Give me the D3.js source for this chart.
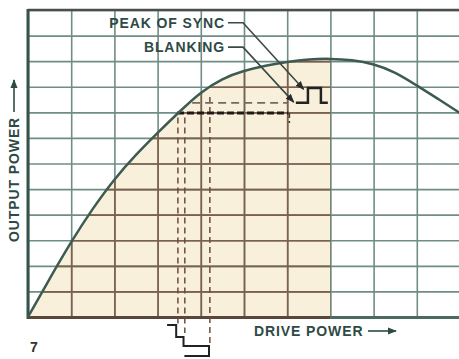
<!DOCTYPE html>
<html>
<head>
<meta charset="utf-8">
<script src="https://cdn.jsdelivr.net/npm/d3@7"></script>
<style>
  html, body { margin: 0; padding: 0; background: #fff; }
  svg { display: block; }
  text { font-family: "Liberation Sans", Arial, sans-serif; fill: #2e4a45; }
</style>
</head>
<body>
<svg id="chart" width="459" height="359"></svg>
<script>
// Transfer curve of the output stage: drive power vs. output power (grid units)
const drive  = [0, 0.5, 1, 1.5, 2, 2.5, 3, 3.5, 4, 4.5, 5, 5.5, 6, 6.5, 7, 7.5, 8, 8.5, 9, 9.5, 10];
const output = [0, 1.5, 2.95, 4.25, 5.4, 6.35, 7.2, 8.02, 8.8, 9.33, 9.63, 9.83, 9.98, 10.08, 10.1, 10.05, 9.9, 9.58, 9.05, 8.52, 7.97];

// Operating region (shaded) ends at this drive level
const shadeEnd = 7;

// Drive levels projected up from the input signal, and the output levels they produce
const projDrive  = [3.47, 3.63, 4.21];
const projTop    = [7.8, 7.8, 8.6];
const projBelow  = [8, 16, 27];          // how far each projection runs under the axis (px)
const outLevels  = [7.97, 8.37, 8.95];   // black level, blanking, peak of sync

// Input (drive) waveform under the axis: drive value and drop below axis (px)
const inWaveX = [3.22, 3.43, 3.43, 3.6, 3.6, 4.19, 4.19, 3.62];
const inWaveY = [8, 8, 20, 20, 29, 29, 39, 39];

// Output waveform next to the curve: drive-axis position and output level
const outWaveX = [6.2, 6.48, 6.48, 6.78, 6.78, 6.94];
const outWaveY = [8.37, 8.37, 8.95, 8.95, 8.37, 8.37];

const labels = ["PEAK OF SYNC", "BLANKING"];
const labelLevel = [11.5, 10.55];
const labelTip = [[6.38, 8.9], [6.15, 8.4]];

const W = 459, H = 359;
const svg = d3.select("#chart");

const x = d3.scaleLinear().domain([0, 10]).range([28, 460]);
const y = d3.scaleLinear().domain([0, 12]).range([317, 10]);

const pts = drive.map((d, i) => ({ x: d, y: output[i] }));

const line = d3.line().x(d => x(d.x)).y(d => y(d.y)).curve(d3.curveBasis);
const area = d3.area().x(d => x(d.x)).y0(y(0)).y1(d => y(d.y)).curve(d3.curveBasis);
const shadePts = pts.filter(d => d.x <= shadeEnd);

// shaded operating region
svg.append("path").attr("d", area(shadePts)).attr("fill", "#f9f0dc");

const defs = svg.append("defs");
defs.append("clipPath").attr("id", "shadeClip")
  .append("path").attr("d", area(shadePts));

// grid, drawn with the axis generators
function grid(g, colour) {
  g.append("g")
    .attr("transform", `translate(0,${y(0)})`)
    .call(d3.axisBottom(x).ticks(10).tickSize(-(y(0) - y(12))).tickFormat(""))
    .call(s => s.select(".domain").remove())
    .selectAll("line").attr("stroke", colour).attr("stroke-width", 1.6);
  g.append("g")
    .attr("transform", `translate(${x(0)},0)`)
    .call(d3.axisLeft(y).ticks(12).tickSize(-(x(10) - x(0))).tickFormat(""))
    .call(s => s.select(".domain").remove())
    .selectAll("line").attr("stroke", colour).attr("stroke-width", 1.6);
}
grid(svg.append("g"), "#6f8d85");
grid(svg.append("g").attr("clip-path", "url(#shadeClip)"), "#7e5f4c");

// frame
svg.append("line").attr("x1", x(0)).attr("x2", W).attr("y1", y(12)).attr("y2", y(12))
  .attr("stroke", "#4b4f4c").attr("stroke-width", 2.5);
svg.append("line").attr("x1", x(0)).attr("x2", x(shadeEnd)).attr("y1", y(0) + 0.5).attr("y2", y(0) + 0.5)
  .attr("stroke", "#5b4739").attr("stroke-width", 3);
svg.append("line").attr("x1", x(shadeEnd)).attr("x2", W).attr("y1", y(0) + 0.5).attr("y2", y(0) + 0.5)
  .attr("stroke", "#4a6a62").attr("stroke-width", 3);
svg.append("line").attr("x1", x(0)).attr("x2", x(0)).attr("y1", y(12) - 1).attr("y2", y(0) + 2)
  .attr("stroke", "#35524b").attr("stroke-width", 3);

// projections of the input signal
projDrive.forEach((d, i) => {
  svg.append("line")
    .attr("x1", x(d)).attr("x2", x(d))
    .attr("y1", y(projTop[i])).attr("y2", y(0) + projBelow[i])
    .attr("stroke", "#6b4c3c").attr("stroke-width", 1.5)
    .attr("stroke-dasharray", "6,4");
});

// black level (heavy dashes) and blanking level (light dashes)
svg.append("line")
  .attr("x1", x(3.45)).attr("x2", x(6.03))
  .attr("y1", y(outLevels[0])).attr("y2", y(outLevels[0]))
  .attr("stroke", "#1f1a16").attr("stroke-width", 3).attr("stroke-dasharray", "7,3");
svg.append("line")
  .attr("x1", x(3.8)).attr("x2", x(6.0))
  .attr("y1", y(outLevels[1])).attr("y2", y(outLevels[1]))
  .attr("stroke", "#6e6c60").attr("stroke-width", 1.6).attr("stroke-dasharray", "8,5");
svg.append("line")
  .attr("x1", x(6.05)).attr("x2", x(6.05))
  .attr("y1", y(outLevels[0])).attr("y2", y(outLevels[0]) + 10)
  .attr("stroke", "#4a3a30").attr("stroke-width", 1.6).attr("stroke-dasharray", "5,3");

// transfer curve
svg.append("path").attr("d", line(pts))
  .attr("fill", "none").attr("stroke", "#3d5b50").attr("stroke-width", 2.5);

// input waveform under the axis
svg.append("path")
  .attr("d", d3.line()(inWaveX.map((d, i) => [x(d), y(0) + inWaveY[i]])))
  .attr("fill", "none").attr("stroke", "#222").attr("stroke-width", 2);

// output waveform
svg.append("path")
  .attr("d", d3.line()(outWaveX.map((d, i) => [x(d), y(outWaveY[i])])))
  .attr("fill", "none").attr("stroke", "#222").attr("stroke-width", 2.5);

// arrowheads
defs.append("marker").attr("id", "arr").attr("viewBox", "0 0 10 10")
  .attr("refX", 9).attr("refY", 5).attr("markerWidth", 9).attr("markerHeight", 9)
  .attr("markerUnits", "userSpaceOnUse").attr("orient", "auto")
  .append("path").attr("d", "M0,1 L10,5 L0,9 Z").attr("fill", "#2b2b2b");
defs.append("marker").attr("id", "arrG").attr("viewBox", "0 0 10 10")
  .attr("refX", 9).attr("refY", 5).attr("markerWidth", 9).attr("markerHeight", 9)
  .attr("markerUnits", "userSpaceOnUse").attr("orient", "auto")
  .append("path").attr("d", "M0,1 L10,5 L0,9 Z").attr("fill", "#2e4a45");

// callouts
labels.forEach((t, i) => {
  const ly = y(labelLevel[i]);
  svg.append("text").attr("x", 225).attr("y", ly + 5)
    .attr("text-anchor", "end").attr("font-size", 14).attr("font-weight", "bold")
    .attr("letter-spacing", 0.9).text(t);
  svg.append("path")
    .attr("d", d3.line()([[228, ly], [243, ly], [x(labelTip[i][0]), y(labelTip[i][1])]]))
    .attr("fill", "none").attr("stroke", "#3b4a45").attr("stroke-width", 1.6)
    .attr("marker-end", "url(#arr)");
});

// axis titles
svg.append("text")
  .attr("transform", `translate(19,242) rotate(-90)`)
  .attr("font-size", 14).attr("font-weight", "bold").attr("letter-spacing", 0.9)
  .text("OUTPUT POWER");
svg.append("line").attr("x1", 14).attr("x2", 14).attr("y1", 112).attr("y2", 80)
  .attr("stroke", "#2e4a45").attr("stroke-width", 1.6).attr("marker-end", "url(#arrG)");

svg.append("text").attr("x", 254).attr("y", 336)
  .attr("font-size", 14).attr("font-weight", "bold").attr("letter-spacing", 0.9)
  .text("DRIVE POWER");
svg.append("line").attr("x1", 368).attr("x2", 396).attr("y1", 331).attr("y2", 331)
  .attr("stroke", "#2e4a45").attr("stroke-width", 1.6).attr("marker-end", "url(#arrG)");

svg.append("text").attr("x", 30).attr("y", 352)
  .attr("font-size", 14).attr("font-weight", "bold").style("fill", "#333").text("7");
</script>
</body>
</html>
